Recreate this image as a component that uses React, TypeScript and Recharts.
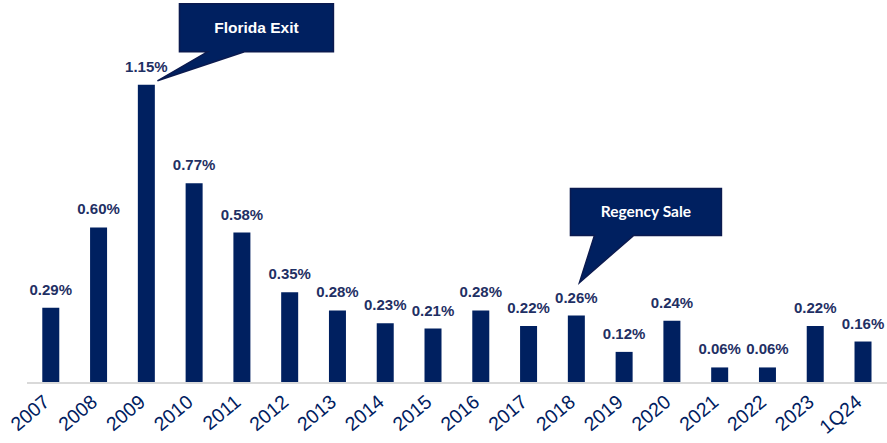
import { Bar, BarChart, LabelList, ReferenceDot, XAxis, YAxis } from 'recharts';

const periods = ['2007', '2008', '2009', '2010', '2011', '2012', '2013', '2014', '2015', '2016', '2017', '2018', '2019', '2020', '2021', '2022', '2023', '1Q24'];
const rates = [0.29, 0.6, 1.15, 0.77, 0.58, 0.35, 0.28, 0.23, 0.21, 0.28, 0.22, 0.26, 0.12, 0.24, 0.06, 0.06, 0.22, 0.16];

const callouts = [
  { period: '2009', value: 1.15, text: 'Florida Exit' },
  { period: '2018', value: 0.26, text: 'Regency Sale' }
];

const NAVY = '#002060';
const LABEL = '#1F3064';

const chartData = periods.map((period, i) => ({ period, rate: rates[i] }));

const RotatedTick = ({ x, y, payload }: any) => (
  <g transform={`translate(${x},${y + 21})`}>
    <text x={0} y={0} textAnchor="end" transform="rotate(-40)" fill={NAVY} fontSize={19.5} fontFamily="Liberation Sans, Arial, sans-serif">
      {payload.value}
    </text>
  </g>
);

// callout shapes are placed relative to the data point they point at
const floridaShape = ({ cx, cy }: any) => {
  const bx = cx + 33;
  const by = cy - 81;
  const w = 154;
  const h = 48;
  const pts = [
    [bx, by],
    [bx + w, by],
    [bx + w, by + h],
    [cx + 98, by + h],
    [cx + 11, cy - 4],
    [cx + 61, by + h],
    [bx, by + h]
  ];
  return (
    <g>
      <polygon points={pts.map((p) => p.join(',')).join(' ')} fill={NAVY} stroke="#0B1A4F" strokeWidth={1.5} />
      <text x={bx + w / 2} y={by + h / 2 + 5} textAnchor="middle" fill="#fff" fontWeight="bold" fontSize={15.5} fontFamily="Liberation Sans, Arial, sans-serif">
        {callouts[0].text}
      </text>
    </g>
  );
};

const regencyShape = ({ cx, cy }: any) => {
  const bx = cx - 6;
  const by = cy - 127;
  const w = 151;
  const h = 47;
  const pts = [
    [bx, by],
    [bx + w, by],
    [bx + w, by + h],
    [cx + 57, by + h],
    [cx + 3, cy - 33],
    [cx + 18, by + h],
    [bx, by + h]
  ];
  return (
    <g>
      <polygon points={pts.map((p) => p.join(',')).join(' ')} fill={NAVY} stroke="#0B1A4F" strokeWidth={1.5} />
      <text x={bx + w / 2} y={by + h / 2 + 5} textAnchor="middle" fill="#fff" fontWeight="bold" fontSize={15.5} fontFamily="Lato, Liberation Sans, sans-serif">
        {callouts[1].text}
      </text>
    </g>
  );
};

const App = () => {
  return (
    <div style={{ position: 'absolute', left: 0, top: 0, width: 887, height: 443, background: '#fff' }}>
      <BarChart width={887} height={443} data={chartData} margin={{ top: 20, right: 0, left: 27, bottom: 0 }} barCategoryGap="32%">
        <XAxis
          dataKey="period"
          height={60}
          interval={0}
          tickLine={false}
          tickMargin={0}
          tickSize={0}
          axisLine={{ stroke: '#D9D9D9', strokeWidth: 2 }}
          tick={<RotatedTick />}
        />
        <YAxis hide domain={[0, 1.4]} />
        <Bar dataKey="rate" fill={NAVY} isAnimationActive={false}>
          <LabelList
            dataKey="rate"
            position="top"
            offset={13}
            formatter={(v: any) => `${Number(v).toFixed(2)}%`}
            fill={LABEL}
            fontSize={15}
            fontWeight="bold"
            fontFamily="Liberation Sans, Arial, sans-serif"
          />
        </Bar>
        <ReferenceDot x={callouts[0].period} y={callouts[0].value} ifOverflow="visible" shape={floridaShape} />
        <ReferenceDot x={callouts[1].period} y={callouts[1].value} ifOverflow="visible" shape={regencyShape} />
      </BarChart>
    </div>
  );
};

export default App;
